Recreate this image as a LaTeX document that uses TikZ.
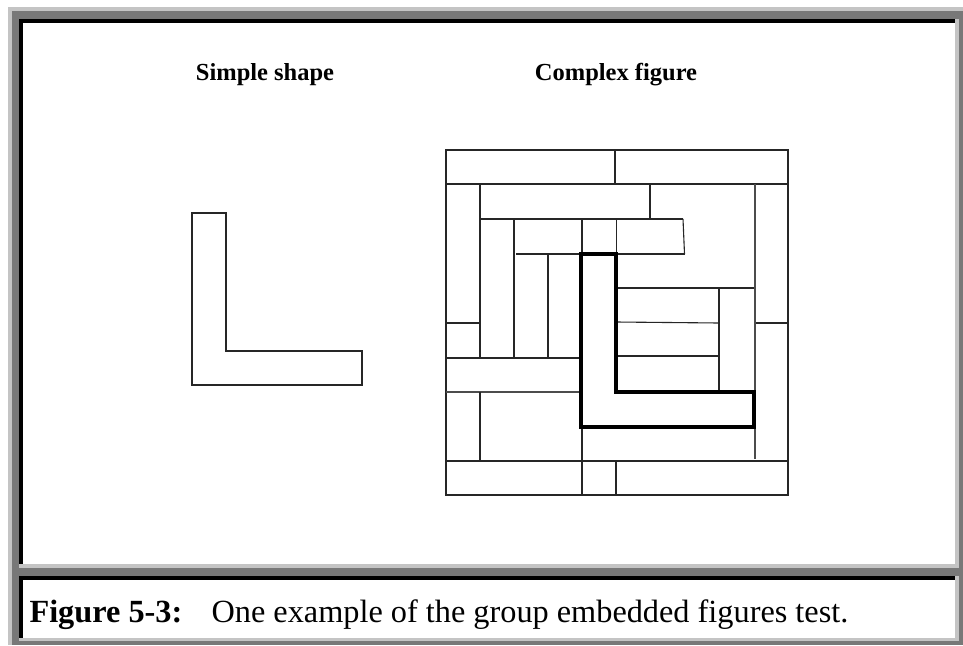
\documentclass[tikz,border=0pt]{standalone}
\usepackage{fontspec}
\setmainfont{Liberation Serif}
\definecolor{frameLight}{HTML}{C4C4C4}
\definecolor{frameDark}{HTML}{787878}
\begin{document}
\begin{tikzpicture}[x=1pt,y=-1pt,
  thinline/.style={draw=black!85,line width=1.1pt},
  thickline/.style={draw=black,line width=3.4pt,line join=miter},
  title/.style={font=\fontsize{24.5}{29}\selectfont\bfseries,anchor=base},
  caption/.style={font=\fontsize{32.3}{38}\selectfont,anchor=base west}]
\useasboundingbox (0,0) rectangle (963,645);
% outer raised frame
\fill[frameDark] (8,7) rectangle (963,645);
\fill[frameLight] (8,7) rectangle (963,11);
\fill[frameLight] (8,7) rectangle (12,645);
% upper panel (sunken)
\fill[frameLight] (19,19) rectangle (959,568);
\fill[black] (19,19) rectangle (955,564);
\fill[white] (23,23) rectangle (955,564);
% caption panel (sunken)
\fill[frameLight] (19,576) rectangle (959,641);
\fill[black] (19,576) rectangle (955,638);
\fill[white] (23,580) rectangle (955,638);

% titles
\node[title] (tsimple) at (265,80) {Simple shape};
\node[title] (tcomplex) at (616,80) {Complex figure};

% simple shape
\draw[thinline,line join=miter] (192,213) -- (226,213) -- (226,351) -- (362,351)
  -- (362,385) -- (192,385) -- cycle;

% complex figure: outline and partition lines
\draw[thinline] (446,150) rectangle (788,495);
\draw[thinline] (446,184) -- (788,184);
\draw[thinline] (615,150) -- (615,184);
\draw[thinline] (480,219) -- (683,219);
\draw[thinline] (516,254) -- (685,254);
\draw[thinline] (616,288) -- (755,288);
\draw[thinline] (446,323) -- (480,323);
\draw[thinline] (616,322) -- (719,323);
\draw[thinline] (755,323) -- (788,323);
\draw[thinline] (616,356) -- (719,356);
\draw[thinline] (446,358) -- (581,358);
\draw[thinline,draw=black!70] (446,392) -- (581,392);
\draw[thinline] (446,461) -- (788,461);
\draw[thinline] (480,184) -- (480,358);
\draw[thinline] (480,392) -- (480,462);
\draw[thinline] (650,184) -- (650,219);
\draw[thinline,draw=black!70] (755,184) -- (755,459);
\draw[thinline] (514,219) -- (514,358);
\draw[thinline] (582,219) -- (582,254);
\draw[thinline] (616.5,219) -- (616.5,254);
\draw[thinline] (683,219) -- (684.5,254);
\draw[thinline] (548,254) -- (548,358);
\draw[thinline] (719,288) -- (719,392);
\draw[thinline] (582,427) -- (582,495);
\draw[thinline] (616,461) -- (616,495);

% embedded shape
\draw[thickline] (581,254) -- (616,254) -- (616,392) -- (754,392)
  -- (754,427) -- (581,427) -- cycle;

% caption
\node[caption,font=\fontsize{32.3}{38}\selectfont\bfseries] (cfig) at (26,622) {Figure 5-3:};
\node[caption] (ctext) at (208,622) {One example of the group embedded figures test.};
\end{tikzpicture}
\end{document}
